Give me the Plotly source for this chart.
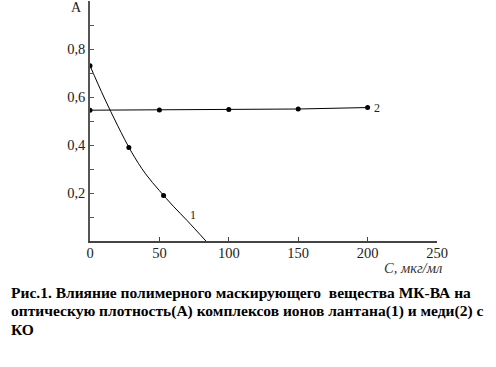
import plotly.graph_objects as go

la_x = [0, 28, 53]
la_y = [0.73, 0.39, 0.19]
la_curve_x = [0, 10, 20, 30, 40, 50, 60, 70, 83.5]
la_curve_y = [0.73, 0.60, 0.48, 0.37, 0.28, 0.21, 0.145, 0.085, 0.0]

# Series 2: copper
cu_x = [0, 50, 100, 150, 200]
cu_y = [0.545, 0.546, 0.548, 0.550, 0.556]

x_ticks = [0, 50, 100, 150, 200, 250]
x_tick_text = ["0", "50", "100", "150", "200", "250"]
y_ticks = [0.1, 0.2, 0.3, 0.4, 0.5, 0.6, 0.7, 0.8, 0.9]
y_tick_text = ["", "0,2", "", "0,4", "", "0,6", "", "0,8", ""]

caption_lines = [
    "Рис.1. Влияние полимерного маскирующего  вещества МК-ВА на",
    "оптическую плотность(А) комплексов ионов лантана(1) и меди(2) с",
    "КО",
]

SERIF = "Liberation Serif"

fig = go.Figure()
fig.add_trace(go.Scatter(x=la_curve_x, y=la_curve_y, mode="lines",
                         line=dict(color="black", width=1, shape="spline"),
                         showlegend=False, hoverinfo="skip"))
fig.add_trace(go.Scatter(x=la_x, y=la_y, mode="markers",
                         marker=dict(color="black", size=5),
                         showlegend=False))
fig.add_trace(go.Scatter(x=cu_x, y=cu_y, mode="lines+markers",
                         line=dict(color="black", width=1),
                         marker=dict(color="black", size=5),
                         showlegend=False))

fig.update_layout(
    width=496, height=367,
    margin=dict(l=90, r=59, t=1, b=126),
    paper_bgcolor="white", plot_bgcolor="white",
    font=dict(family=SERIF, size=12, color="#222"),
    xaxis=dict(range=[0, 250], tickvals=x_ticks, ticktext=x_tick_text,
               showgrid=False, zeroline=False, showline=True,
               linecolor="#444", linewidth=1.5,
               ticks="inside", ticklen=4, tickcolor="#444",
               ticklabelstandoff=-2,
               tickfont=dict(family=SERIF, size=14.5, color="#222")),
    yaxis=dict(range=[0, 1.0], tickvals=y_ticks, ticktext=y_tick_text,
               showgrid=False, zeroline=False, showline=True,
               linecolor="#555", linewidth=1.5,
               ticks="inside", ticklen=4, tickcolor="#555",
               ticklabelstandoff=0,
               tickfont=dict(family=SERIF, size=14.5, color="#222")),
)

ann = [
    dict(text="A", x=0, y=0.975, xref="x", yref="y", xanchor="right", yanchor="middle",
         xshift=-6, showarrow=False, font=dict(family=SERIF, size=14, color="#222")),
    dict(text="<i>C, мкг/мл</i>", x=250, y=0, xref="x", yref="y", xanchor="right",
         yanchor="middle", yshift=-27, xshift=7, showarrow=False,
         font=dict(family=SERIF, size=14.5, color="#333")),
    dict(text="1", x=74, y=0.11, xref="x", yref="y", showarrow=False,
         font=dict(family=SERIF, size=12, color="#222")),
    dict(text="2", x=200, y=cu_y[-1], xref="x", yref="y", xanchor="left",
         xshift=4, showarrow=False, font=dict(family=SERIF, size=12, color="#222")),
]
for i, line in enumerate(caption_lines):
    ann.append(dict(text="<b>" + line + "</b>", x=9, y=292 + 18.5 * i,
                    xref="paper", yref="paper", showarrow=False,
                    xanchor="left", yanchor="middle",
                    font=dict(family=SERIF, size=15.5, color="black")))
# convert caption pixel positions to paper coords
plot_w = 496 - 90 - 59
plot_h = 367 - 1 - 126
for a in ann[4:]:
    px, py = a["x"], a["y"]
    a["x"] = (px - 90) / plot_w
    a["y"] = (367 - 126 - py) / plot_h
fig.update_layout(annotations=ann)

fig.write_html("out.html", config={"displayModeBar": False},
               post_script="document.body.style.margin='0';")
